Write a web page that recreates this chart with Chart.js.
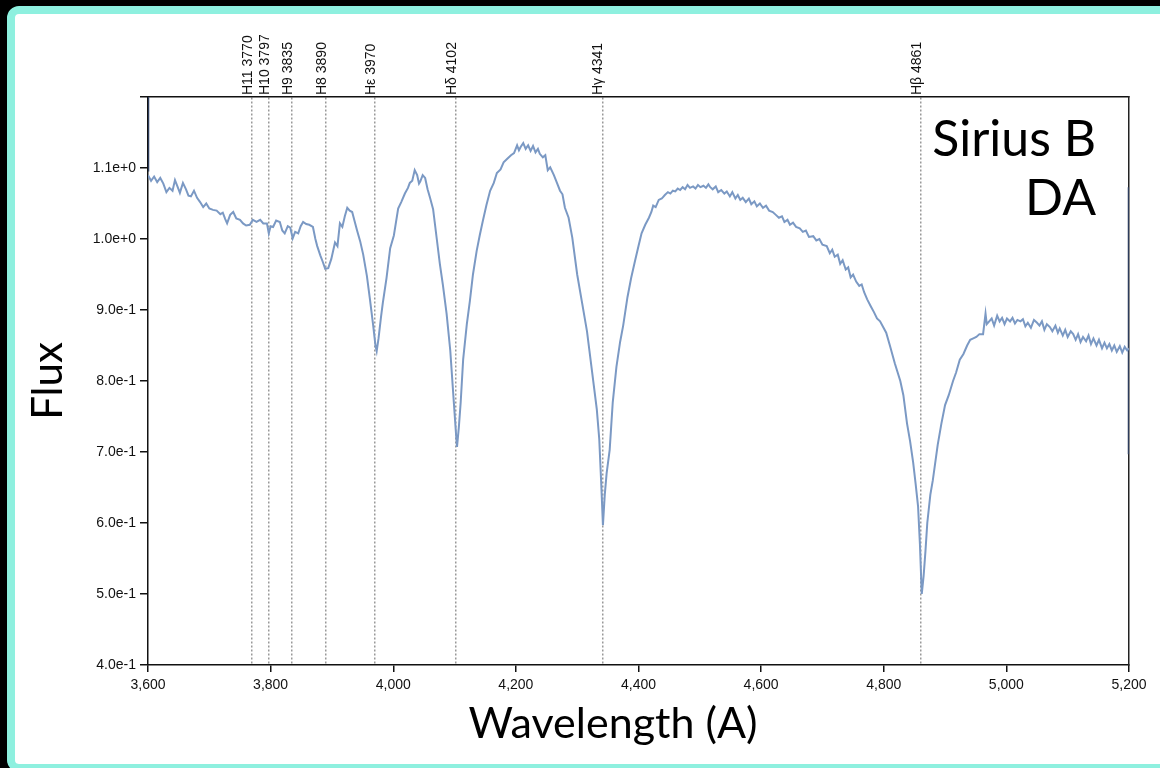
<!DOCTYPE html>
<html>
<head>
<meta charset="utf-8">
<title>Sirius B spectrum</title>
<script src="https://cdn.jsdelivr.net/npm/chart.js@4.4.1/dist/chart.umd.min.js"></script>
<style>
  html, body { margin: 0; padding: 0; background: #000; overflow: hidden; }
  body { width: 1160px; height: 768px; position: relative; }
  .frame {
    position: absolute; left: 7px; top: 6px; width: 1200px; height: 766px;
    box-sizing: border-box; border: 8px solid #8ef0df; border-radius: 12px; background: #fff;
  }
  #spectrum { position: absolute; left: 0; top: 0; }
</style>
</head>
<body>
<div class="frame"></div>
<canvas id="spectrum" width="1160" height="768"></canvas>
<script>
// Wavelength grid (Angstrom) and normalised flux of the white dwarf
const wavelength = [
  3600,3605,3610,3615,3620,3625,3630,3635,3640,3644,
  3648,3652,3657,3662,3666,3670,3675,3680,3685,3690,
  3695,3700,3706,3712,3718,3722,3726,3729,3734,3739,
  3744,3750,3755,3760,3766,3771,3777,3783,3788,3794,
  3797,3800,3804,3809,3815,3819,3823,3828,3832,3836,
  3840,3845,3849,3853,3858,3863,3869,3873,3876,3881,
  3885,3889,3894,3899,3905,3909,3913,3917,3921,3925,
  3929,3933,3937,3941,3946,3951,3957,3962,3967,3971,
  3973,3976,3980,3983,3989,3995,4001,4008,4013,4019,
  4024,4027,4031,4035,4039,4042,4044,4048,4052,4056,
  4060,4065,4071,4076,4081,4087,4093,4098,4102,4104,
  4107,4110,4114,4120,4125,4130,4136,4141,4146,4152,
  4158,4164,4169,4175,4180,4186,4192,4197,4202,4205,
  4208,4212,4216,4220,4224,4228,4232,4236,4239,4244,
  4248,4252,4256,4262,4267,4272,4276,4280,4286,4292,
  4300,4308,4316,4324,4332,4336,4339,4342,4345,4348,
  4353,4358,4364,4370,4375,4382,4388,4394,4400,4405,
  4411,4417,4421,4424,4428,4433,4438,4443,4448,4452,
  4456,4460,4464,4468,4472,4476,4480,4484,4489,4493,
  4497,4501,4506,4510,4514,4517,4521,4526,4530,4535,
  4540,4544,4549,4553,4558,4562,4566,4570,4575,4580,
  4584,4589,4593,4598,4603,4608,4613,4619,4624,4629,
  4634,4638,4643,4647,4652,4657,4663,4668,4673,4678,
  4685,4690,4695,4700,4707,4712,4716,4720,4725,4729,
  4733,4738,4742,4746,4750,4755,4760,4764,4768,4773,
  4779,4784,4789,4794,4799,4804,4810,4818,4827,4832,
  4838,4843,4848,4852,4856,4859,4862,4865,4868,4871,
  4876,4880,4888,4894,4900,4906,4913,4918,4924,4930,
  4936,4941,4946,4951,4956,4962,4966,4968,4972,4976,
  4980,4985,4989,4993,4997,5001,5006,5010,5014,5018,
  5023,5027,5031,5035,5040,5045,5050,5054,5058,5062,
  5066,5071,5075,5080,5084,5087,5092,5096,5100,5105,
  5109,5113,5117,5121,5125,5130,5134,5138,5142,5147,
  5151,5156,5160,5164,5168,5172,5176,5180,5185,5189,
  5193,5197,5200
];

const flux = [
  1.090,1.082,1.088,1.080,1.086,1.078,1.066,1.072,1.068,1.083,
  1.074,1.065,1.079,1.070,1.061,1.060,1.068,1.058,1.052,1.045,
  1.050,1.043,1.041,1.040,1.035,1.037,1.028,1.022,1.034,1.038,
  1.029,1.027,1.022,1.019,1.020,1.027,1.024,1.027,1.022,1.022,
  1.008,1.018,1.017,1.026,1.024,1.012,1.008,1.018,1.016,1.001,
  1.010,1.008,1.018,1.024,1.021,1.020,1.017,1.000,0.990,0.977,
  0.968,0.958,0.959,0.972,0.995,0.990,1.022,1.017,1.032,1.044,
  1.040,1.038,1.025,1.012,0.997,0.978,0.948,0.915,0.880,0.850,
  0.842,0.860,0.890,0.910,0.945,0.987,1.005,1.043,1.052,1.064,
  1.072,1.079,1.082,1.097,1.090,1.078,1.081,1.090,1.086,1.070,
  1.058,1.042,1.000,0.965,0.935,0.895,0.843,0.780,0.730,0.707,
  0.735,0.770,0.830,0.880,0.913,0.950,0.983,1.005,1.025,1.048,
  1.068,1.079,1.093,1.098,1.108,1.113,1.118,1.121,1.132,1.125,
  1.130,1.135,1.127,1.132,1.124,1.131,1.122,1.127,1.120,1.115,
  1.118,1.097,1.101,1.090,1.079,1.068,1.063,1.044,1.030,1.002,
  0.950,0.910,0.870,0.815,0.760,0.718,0.660,0.597,0.640,0.670,
  0.703,0.770,0.820,0.855,0.878,0.918,0.945,0.968,0.990,1.008,
  1.020,1.030,1.038,1.047,1.045,1.055,1.057,1.062,1.066,1.064,
  1.068,1.067,1.071,1.069,1.073,1.070,1.076,1.072,1.074,1.071,
  1.076,1.073,1.075,1.072,1.077,1.073,1.070,1.074,1.066,1.069,
  1.064,1.067,1.060,1.066,1.057,1.062,1.055,1.058,1.052,1.057,
  1.049,1.053,1.046,1.050,1.044,1.047,1.040,1.038,1.034,1.030,
  1.032,1.024,1.027,1.020,1.023,1.017,1.015,1.010,1.012,1.003,
  1.004,0.998,1.000,0.992,0.990,0.980,0.985,0.975,0.978,0.965,
  0.970,0.957,0.960,0.946,0.950,0.940,0.934,0.936,0.925,0.915,
  0.905,0.897,0.888,0.884,0.876,0.868,0.850,0.825,0.800,0.780,
  0.740,0.715,0.685,0.655,0.623,0.570,0.500,0.525,0.560,0.600,
  0.640,0.660,0.710,0.740,0.766,0.780,0.800,0.812,0.830,0.838,
  0.850,0.858,0.860,0.862,0.866,0.866,0.895,0.880,0.884,0.888,
  0.878,0.892,0.884,0.889,0.880,0.888,0.884,0.889,0.881,0.886,
  0.884,0.887,0.877,0.882,0.875,0.886,0.882,0.878,0.884,0.872,
  0.880,0.876,0.870,0.878,0.868,0.874,0.864,0.872,0.862,0.870,
  0.866,0.858,0.866,0.855,0.862,0.856,0.864,0.852,0.860,0.850,
  0.858,0.846,0.854,0.846,0.852,0.843,0.850,0.841,0.849,0.840,
  0.848,0.843,0.846
];

// Flux spikes at both ends of the detector range
const startWave = [3600, 3600];
const startFlux = [1.2, 1.095];
const endWave = [5200, 5200];
const endFlux = [1.073, 0.697];

// Balmer lines marked along the top
const lineNames = ['H11', 'H10', 'H9', 'H8', 'Hε', 'Hδ', 'Hγ', 'Hβ'];
const lineWaves = [3770, 3797, 3835, 3890, 3970, 4102, 4341, 4861];

const xTicks = [3600, 3800, 4000, 4200, 4400, 4600, 4800, 5000, 5200];
const yTicks = [0.4, 0.5, 0.6, 0.7, 0.8, 0.9, 1.0, 1.1, 1.2];

const starName = 'Sirius B';
const spectralType = 'DA';
const xTitle = 'Wavelength (A)';

const toPoints = (xs, ys) => xs.map((x, i) => ({ x: x, y: ys[i] }));

const tickFont = { family: "'Liberation Sans', Arial, sans-serif", size: 14 };
const titleFont = { family: 'Lato, sans-serif', size: 42 };

// Star name, class and the x-axis title (set slightly left of centre)
const annotations = {
    id: 'annotations',
    afterDraw(chart) {
        const { ctx, chartArea } = chart;
        ctx.save();
        ctx.fillStyle = '#000';
        ctx.font = '50px Lato, sans-serif';
        ctx.textAlign = 'right';
        ctx.textBaseline = 'alphabetic';
        ctx.fillText(starName, chartArea.right - 33, chartArea.top + 59);
        ctx.fillText(spectralType, chartArea.right - 33, chartArea.top + 118);
        ctx.font = '43px Lato, sans-serif';
        ctx.textAlign = 'center';
        ctx.fillText(xTitle, chartArea.left + 465, chartArea.bottom + 73);
        ctx.restore();
    }
};

new Chart(document.getElementById('spectrum').getContext('2d'), {
    type: 'line',
    data: {
        datasets: [
            {
                data: toPoints(wavelength, flux),
                borderColor: '#7b99c4',
                borderWidth: 2,
                pointRadius: 0,
                tension: 0,
            },
            {
                data: toPoints(startWave, startFlux),
                borderColor: '#2d3d5c',
                borderWidth: 2.5,
                pointRadius: 0,
            },
            {
                data: toPoints(endWave, endFlux),
                borderColor: '#2d3d5c',
                borderWidth: 2.5,
                pointRadius: 0,
            },
        ],
    },
    options: {
        responsive: false,
        animation: false,
        devicePixelRatio: 1,
        layout: { padding: 0 },
        plugins: {
            legend: { display: false },
            tooltip: { enabled: false },
        },
        scales: {
            x: {
                type: 'linear',
                position: 'bottom',
                min: 3600,
                max: 5200,
                afterBuildTicks: (scale) => { scale.ticks = xTicks.map(v => ({ value: v })); },
                afterFit: (scale) => { scale.height = 103; },
                ticks: {
                    color: '#111',
                    font: tickFont,
                    padding: 5,
                    maxRotation: 0,
                    callback: (v) => v.toLocaleString('en-US'),
                },
                grid: { drawOnChartArea: false, tickLength: 7, color: '#111', lineWidth: 1.5 },
                border: { color: '#111', width: 1.5 },
            },
            lines: {
                type: 'linear',
                position: 'top',
                min: 3600,
                max: 5200,
                afterBuildTicks: (scale) => { scale.ticks = lineWaves.map(v => ({ value: v })); },
                afterFit: (scale) => { scale.height = 97; },
                ticks: {
                    autoSkip: false,
                    minRotation: 90,
                    maxRotation: 90,
                    padding: 2,
                    labelOffset: 13,
                    color: '#111',
                    font: { family: "'Liberation Sans', Arial, sans-serif", size: 14 },
                    callback: (v) => {
                        const i = lineWaves.indexOf(v);
                        return lineNames[i] + ' ' + lineWaves[i];
                    },
                },
                grid: { drawTicks: false, color: '#999', lineWidth: 1.5 },
                border: { color: '#111', width: 1.5, dash: [2, 2] },
            },
            y: {
                type: 'linear',
                position: 'left',
                min: 0.4,
                max: 1.2,
                afterBuildTicks: (scale) => { scale.ticks = yTicks.map(v => ({ value: v })); },
                afterFit: (scale) => { scale.width = 148; },
                ticks: {
                    color: '#111',
                    font: tickFont,
                    padding: 4,
                    callback: (v) => (v > 1.15 ? '' : v.toExponential(1)),
                },
                grid: { drawOnChartArea: false, tickLength: 8, color: '#111', lineWidth: 1.5 },
                border: { color: '#111', width: 1.5 },
                title: {
                    display: true,
                    text: 'Flux',
                    color: '#000',
                    font: titleFont,
                    padding: { top: 23, bottom: 0 },
                },
            },
            yRight: {
                type: 'linear',
                position: 'right',
                min: 0.4,
                max: 1.2,
                afterFit: (scale) => { scale.width = 31; },
                ticks: { display: false },
                grid: { drawOnChartArea: false, drawTicks: false },
                border: { color: '#222', width: 1.5 },
            },
        },
    },
    plugins: [annotations],
});
</script>
</body>
</html>
